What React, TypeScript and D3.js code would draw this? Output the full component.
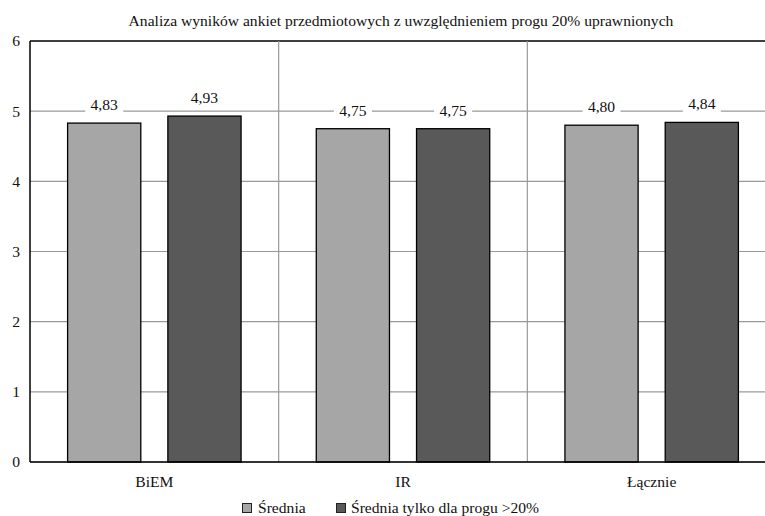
import React from "react";
import * as d3 from "d3";

const categories = ["BiEM", "IR", "Łącznie"];
const seriesNames = ["Średnia", "Średnia tylko dla progu >20%"];
const seriesA = [4.83, 4.75, 4.8];
const seriesB = [4.93, 4.75, 4.84];
const labelsA = ["4,83", "4,75", "4,80"];
const labelsB = ["4,93", "4,75", "4,84"];
const yTicks = [0, 1, 2, 3, 4, 5, 6];
const title = "Analiza wyników ankiet przedmiotowych z uwzględnieniem progu 20% uprawnionych";

const W = 765;
const H = 516;
const left = 30;
const right = 776;
const top = 41;
const bottom = 462;
const colors = ["#a6a6a6", "#595959"];
const FONT = "Liberation Serif";
const FS = 15.6;

export default function App() {
  const x = d3.scaleBand<string>().domain(categories).range([left, right]);
  const inner = d3
    .scaleBand<number>()
    .domain([0, 1])
    .range([0, x.bandwidth()])
    .paddingInner(0.27)
    .paddingOuter(0.375);
  const y = d3.scaleLinear().domain([0, 6]).range([bottom, top]);
  const series = [seriesA, seriesB];
  const labels = [labelsA, labelsB];
  const ts = { fontFamily: FONT };

  return (
    <svg
      width={W}
      height={H}
      style={{ position: "absolute", left: 0, top: 0, background: "#fff" }}
    >
      <rect x={0} y={0} width={W} height={H} fill="#fff" />
      <text style={ts} x={401} y={26} textAnchor="middle" fontSize={FS} fill="#111">
        {title}
      </text>
      {yTicks.map((t) => (
        <g key={t}>
          <line x1={left} x2={right} y1={y(t)} y2={y(t)} stroke={t === 6 ? "#000" : "#999"} strokeWidth={t === 6 ? 1.5 : 1.2} />
          <text style={ts} x={20} y={y(t)} dy="0.35em" textAnchor="end" fontSize={FS} fill="#111">
            {t}
          </text>
        </g>
      ))}
      {categories.slice(1).map((c) => (
        <line key={c} x1={x(c)} x2={x(c)} y1={top} y2={bottom} stroke="#999" strokeWidth={1.2} />
      ))}
      {categories.map((c, i) => (
        <g key={c}>
          {series.map((s, k) => {
            const bx = (x(c) as number) + (inner(k) as number);
            const by = y(s[i]);
            return (
              <rect
                key={k}
                x={bx}
                y={by}
                width={inner.bandwidth()}
                height={bottom - by}
                fill={colors[k]}
                stroke="#000"
                strokeWidth={1.3}
              />
            );
          })}
          {series.map((s, k) => {
            const bx = (x(c) as number) + (inner(k) as number) + inner.bandwidth() / 2;
            const by = y(s[i]);
            const tw = 28;
            return (
              <g key={"l" + k}>
                <rect x={bx - tw / 2 - 5} y={by - 26} width={tw + 10} height={16} fill="#fff" />
                <text style={ts} x={bx} y={by - 13} textAnchor="middle" fontSize={FS} fill="#111">
                  {labels[k][i]}
                </text>
              </g>
            );
          })}
          <text style={ts} x={(x(c) as number) + x.bandwidth() / 2} y={487} textAnchor="middle" fontSize={FS} fill="#111">
            {c}
          </text>
        </g>
      ))}
      <line x1={left} x2={left} y1={top} y2={bottom} stroke="#000" strokeWidth={1.5} />
      <line x1={left} x2={right} y1={bottom} y2={bottom} stroke="#000" strokeWidth={1.5} />
      <g>
        <rect x={242.5} y={503.5} width={9} height={9} fill={colors[0]} stroke="#222" strokeWidth={1} />
        <text style={ts} x={258} y={513} fontSize={FS} fill="#111">{seriesNames[0]}</text>
        <rect x={336.5} y={503.5} width={9} height={9} fill={colors[1]} stroke="#222" strokeWidth={1} />
        <text style={ts} x={351} y={513} fontSize={FS} fill="#111">{seriesNames[1]}</text>
      </g>
    </svg>
  );
}
